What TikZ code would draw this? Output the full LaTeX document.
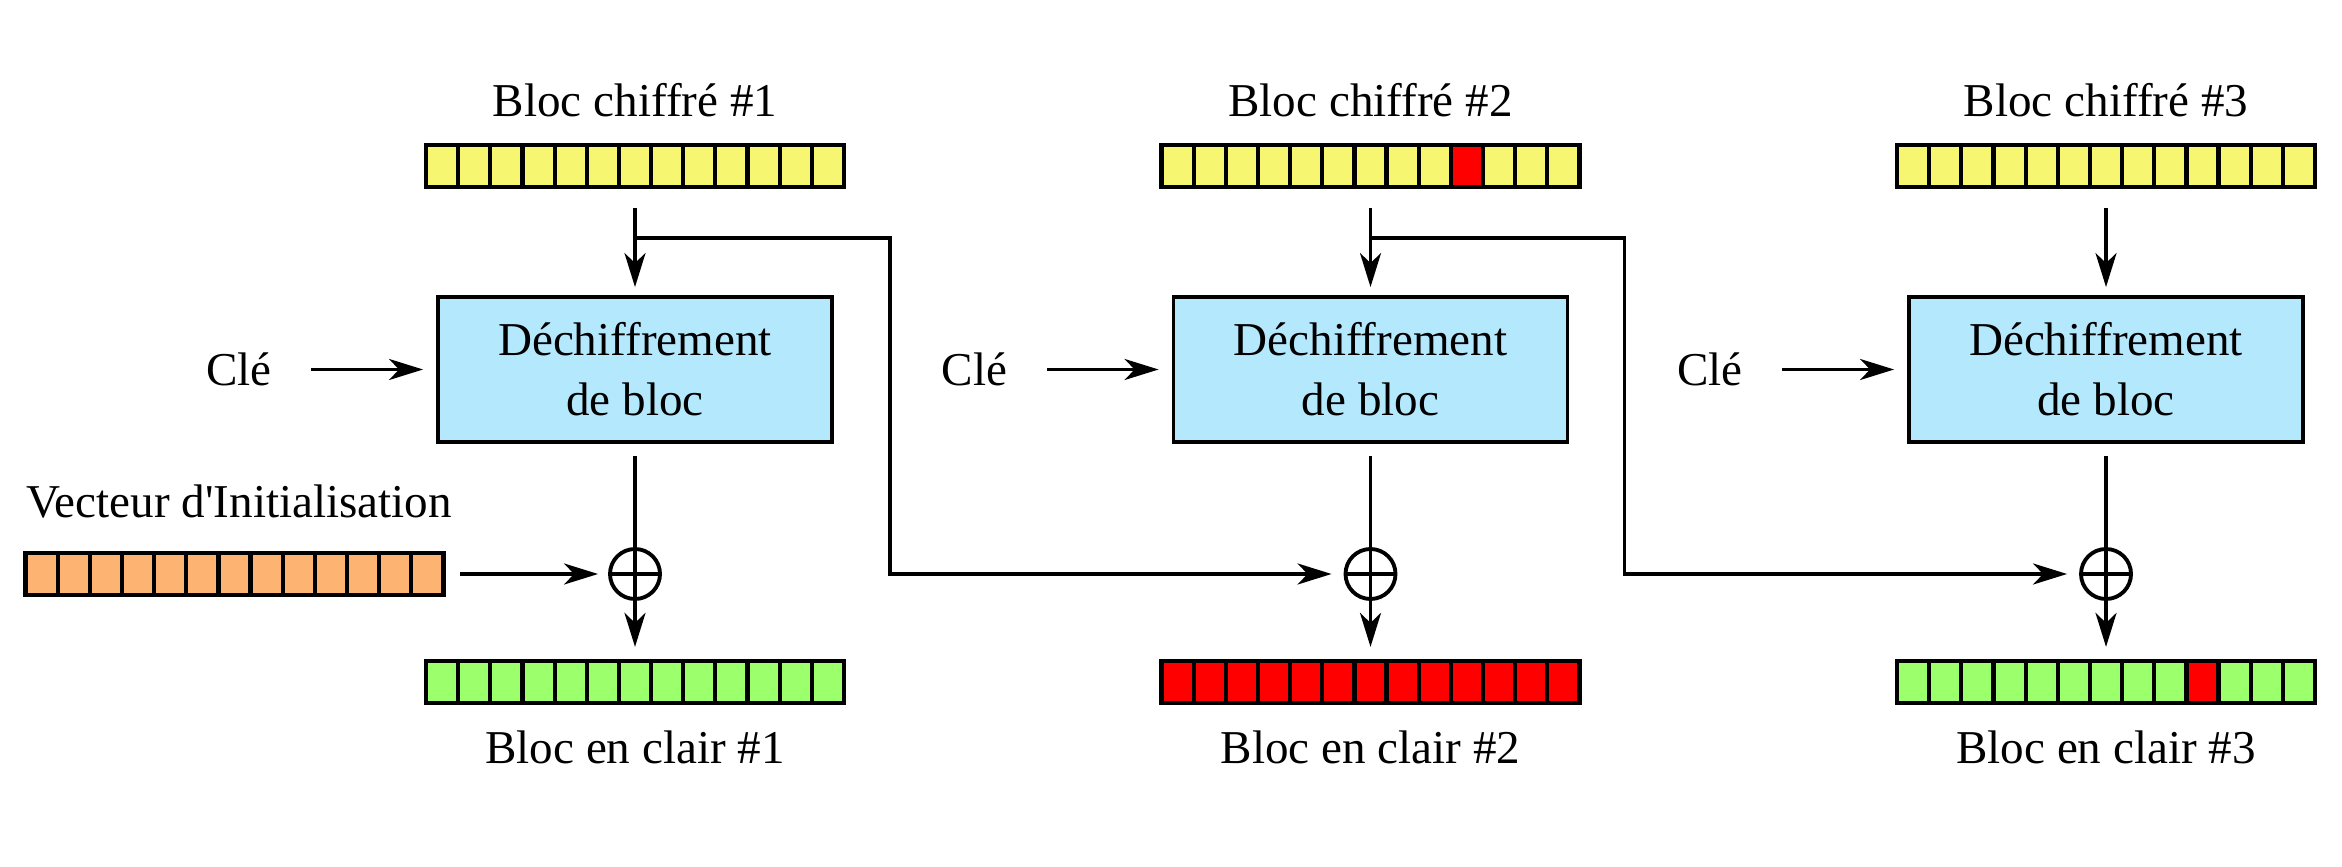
\documentclass[tikz,border=0pt]{standalone}
\usepackage{fontspec}
\setmainfont{Liberation Serif}
\usetikzlibrary{arrows.meta}

\definecolor{jaune}{RGB}{246,246,112}
\definecolor{vert}{RGB}{156,255,108}
\definecolor{orangeiv}{RGB}{253,180,114}
\definecolor{bleu}{RGB}{180,232,252}
\definecolor{rouge}{RGB}{255,0,0}

\def\colsep{7.355}
\def\cellw{0.3215}

\begin{document}
\begin{tikzpicture}[line width=1pt, >={Stealth[length=3.4mm,width=2.1mm,inset=1mm]}, font=\fontsize{13.4}{17}\selectfont]
    \tikzstyle{cell}=[draw, line width=1.2pt, inner sep=0pt, minimum width=\cellw cm, minimum height=0.42cm]
    \tikzstyle{decrypt}=[draw, line width=1.1pt, fill=bleu, align=center, minimum width=3.94cm, minimum height=1.45cm]
    \tikzstyle{xor}=[circle, draw, line width=1.1pt, inner sep=0pt, minimum size=0.5cm,
        path picture={\draw (path picture bounding box.north) -- (path picture bounding box.south)
                            (path picture bounding box.west) -- (path picture bounding box.east);}]
    \tikzstyle{annot}=[inner sep=0pt]

    \useasboundingbox (0,0) rectangle (23.42,8.66);

    % Ciphertext blocks (cell 10 of block 2 is corrupted)
    \foreach \n in {1,2,3} {
        \foreach \i in {1,...,13} {
            \def\couleur{jaune}
            \ifnum\n=2 \ifnum\i=10 \def\couleur{rouge}\fi\fi
            \node[cell, fill=\couleur] (C-\n-\i) at ({6.35+(\n-1)*\colsep+(\i-7)*\cellw}, 7.00) {};
        }
    }

    % Plaintext blocks
    \foreach \n in {1,2,3} {
        \foreach \i in {1,...,13} {
            \def\couleur{vert}
            \ifnum\n=2 \def\couleur{rouge}\fi
            \ifnum\n=3 \ifnum\i=10 \def\couleur{rouge}\fi\fi
            \node[cell, fill=\couleur] (P-\n-\i) at ({6.35+(\n-1)*\colsep+(\i-7)*\cellw}, 1.84) {};
        }
    }

    % Initialisation vector
    \node[annot] (VT) at (2.39, 3.64) {Vecteur d\textquotesingle Initialisation};
    \foreach \i in {1,...,13}
        \node[cell, fill=orangeiv] (IV-\i) at ({2.345+(\i-7)*\cellw}, 2.92) {};

    % One decryption stage per column
    \foreach \n in {1,2,3} {
        \pgfmathsetmacro\x{6.35+(\n-1)*\colsep}
        \node[annot] (CT-\n) at (\x, 7.66) {Bloc chiffré \#\n};
        \node[decrypt] (D-\n) at (\x, 4.965) {Déchiffrement\\de bloc};
        \node[annot] (K-\n) at (\x-3.96, 4.965) {Clé};
        \node[xor] (X-\n) at (\x, 2.92) {};
        \node[annot] (PT-\n) at (\x, 1.19) {Bloc en clair \#\n};
        \coordinate (B-\n) at (\x, 6.28);

        \draw[->, shorten <=0.19cm, shorten >=0.08cm] (C-\n-7) -- (D-\n);
        \draw[->, shorten <=0.38cm, shorten >=0.13cm] (K-\n) -- (D-\n);
        \draw[shorten <=0.12cm] (D-\n) -- (X-\n);
        \draw[->, shorten >=0.12cm] (X-\n) -- (P-\n-7);
    }

    % Chaining: ciphertext goes on to the next XOR
    \draw[->, shorten <=0.14cm, shorten >=0.1cm] (IV-13) -- (X-1);
    \draw[->, shorten >=0.12cm] (B-1) -- ++(2.55,0) |- (X-2);
    \draw[->, shorten >=0.12cm] (B-2) -- ++(2.54,0) |- (X-3);
\end{tikzpicture}
\end{document}
